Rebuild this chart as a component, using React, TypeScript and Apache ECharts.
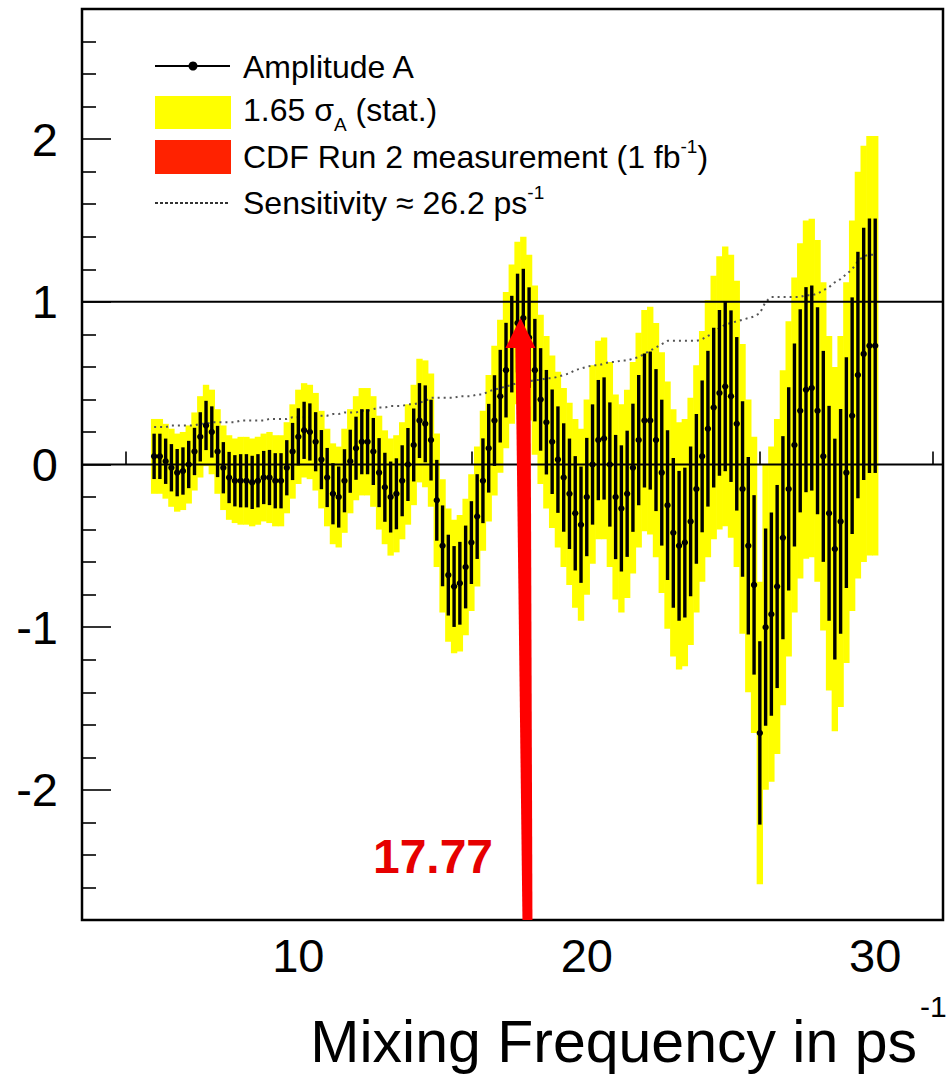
import React, { useEffect, useRef } from "react";
import * as echarts from "echarts";

// Scan frequencies (ps^-1)
const freq = [
  5.0, 5.2, 5.4, 5.6, 5.8, 6.0, 6.2, 6.4, 6.6, 6.8,
  7.0, 7.2, 7.4, 7.6, 7.8, 8.0, 8.2, 8.4, 8.6, 8.8,
  9.0, 9.2, 9.4, 9.6, 9.8, 10.0, 10.2, 10.4, 10.6, 10.8,
  11.0, 11.2, 11.4, 11.6, 11.8, 12.0, 12.2, 12.4, 12.6, 12.8,
  13.0, 13.2, 13.4, 13.6, 13.8, 14.0, 14.2, 14.4, 14.6, 14.8,
  15.0, 15.2, 15.4, 15.6, 15.8, 16.0, 16.2, 16.4, 16.6, 16.8,
  17.0, 17.2, 17.4, 17.6, 17.8, 18.0, 18.2, 18.4, 18.6, 18.8,
  19.0, 19.2, 19.4, 19.6, 19.8, 20.0, 20.2, 20.4, 20.6, 20.8,
  21.0, 21.2, 21.4, 21.6, 21.8, 22.0, 22.2, 22.4, 22.6, 22.8,
  23.0, 23.2, 23.4, 23.6, 23.8, 24.0, 24.2, 24.4, 24.6, 24.8,
  25.0, 25.2, 25.4, 25.6, 25.8, 26.0, 26.2, 26.4, 26.6, 26.8,
  27.0, 27.2, 27.4, 27.6, 27.8, 28.0, 28.2, 28.4, 28.6, 28.8,
  29.0, 29.2, 29.4, 29.6, 29.8, 30.0,
];

// Amplitude A at each frequency
const amplitude = [
  0.05, 0.05, 0.02, -0.02, -0.05, -0.04, 0.0, 0.08, 0.17, 0.24,
  0.2, 0.08, -0.02, -0.08, -0.1, -0.1, -0.1, -0.11, -0.1, -0.08,
  -0.08, -0.1, -0.1, -0.02, 0.08, 0.17, 0.21, 0.2, 0.14, 0.03,
  -0.08, -0.18, -0.2, -0.1, 0.02, 0.1, 0.14, 0.14, 0.08, -0.05,
  -0.14, -0.2, -0.18, -0.1, 0.0, 0.12, 0.27, 0.25, 0.15, -0.22,
  -0.5, -0.68, -0.75, -0.73, -0.63, -0.48, -0.32, -0.1, 0.1, 0.27,
  0.42, 0.58, 0.74, 0.87, 0.9, 0.78, 0.58, 0.4, 0.26, 0.14,
  0.03, -0.08, -0.18, -0.3, -0.37, -0.2, 0.0, 0.15, 0.16, 0.0,
  -0.2, -0.27, -0.18, -0.02, 0.15, 0.27, 0.27, 0.15, -0.05, -0.25,
  -0.42, -0.5, -0.48, -0.35, -0.15, 0.05, 0.22, 0.35, 0.44, 0.48,
  0.42, 0.25, -0.15, -0.5, -0.74, -1.65, -1.0, -0.92, -0.75, -0.45,
  -0.15, 0.12, 0.33, 0.46, 0.47, 0.33, 0.05, -0.3, -0.52, -0.35,
  -0.05, 0.3, 0.55, 0.68, 0.73, 0.73,
];

// 1.65 sigma_A (half-width of the yellow band; also the sensitivity curve)
const sigma165 = [
  0.23, 0.23, 0.23, 0.24, 0.24, 0.24, 0.24, 0.24, 0.25, 0.25,
  0.26, 0.26, 0.26, 0.26, 0.26, 0.27, 0.27, 0.27, 0.27, 0.27,
  0.28, 0.28, 0.28, 0.28, 0.29, 0.29, 0.29, 0.29, 0.3, 0.3,
  0.3, 0.31, 0.31, 0.32, 0.32, 0.32, 0.33, 0.33, 0.34, 0.35,
  0.35, 0.36, 0.36, 0.36, 0.37, 0.37, 0.38, 0.39, 0.41, 0.41,
  0.41, 0.41, 0.41, 0.42, 0.42, 0.42, 0.43, 0.43, 0.45, 0.46,
  0.47, 0.48, 0.49, 0.5, 0.5, 0.51, 0.52, 0.52, 0.53, 0.53,
  0.54, 0.55, 0.56, 0.58, 0.59, 0.6, 0.61, 0.61, 0.62, 0.63,
  0.63, 0.64, 0.64, 0.65, 0.66, 0.68, 0.7, 0.72, 0.74, 0.76,
  0.76, 0.76, 0.76, 0.76, 0.76, 0.77, 0.79, 0.81, 0.84, 0.86,
  0.87, 0.88, 0.89, 0.9, 0.91, 0.93, 1.0, 1.03, 1.03, 1.03,
  1.03, 1.03, 1.03, 1.04, 1.04, 1.05, 1.07, 1.09, 1.12, 1.14,
  1.17, 1.2, 1.25, 1.28, 1.29, 1.29,
];

const xMajorTicks = [10, 20, 30];
const xMinorTicks = [4, 6, 8, 12, 14, 16, 18, 22, 24, 26, 28, 32];
const yMajorTicks = [-2, -1, 0, 1, 2];
const yMinorTicks = [
  -2.6, -2.4, -2.2, -1.8, -1.6, -1.4, -1.2, -0.8, -0.6, -0.4, -0.2,
  0.2, 0.4, 0.6, 0.8, 1.2, 1.4, 1.6, 1.8, 2.2, 2.4, 2.6,
];
const referenceLines = [0, 1];
const measuredFreq = 17.77;
const arrowTipAmplitude = 0.9;

const X_MIN = 2.5;
const X_MAX = 32.35;
const Y_MIN = -2.8;
const Y_MAX = 2.8;
const STEP = 0.2;

const FONT = "'Liberation Sans', Arial, Helvetica, sans-serif";

export default function App() {
  const ref = useRef<HTMLDivElement>(null);

  useEffect(() => {
    document.body.style.margin = "0";
    const chart = echarts.init(ref.current!, null, { renderer: "svg" });

    const scanData = freq.map((f, i) => [f, amplitude[i], sigma165[i]]);

    const xAxisBase = {
      type: "value",
      min: X_MIN,
      max: X_MAX,
      position: "bottom",
      axisLine: { show: false },
      splitLine: { show: false },
    };
    const yAxisBase = {
      type: "value",
      min: Y_MIN,
      max: Y_MAX,
      position: "left",
      axisLine: { show: false },
      splitLine: { show: false },
    };

    const option: any = {
      animation: false,
      grid: {
        left: 82,
        top: 9,
        right: 8,
        bottom: 155,
        show: true,
        borderColor: "#000",
        borderWidth: 2.5,
        backgroundColor: "transparent",
      },
      xAxis: [
        {
          ...xAxisBase,
          axisTick: {
            show: true,
            inside: true,
            length: 24,
            customValues: xMajorTicks,
            lineStyle: { color: "#000", width: 1.6 },
          },
          axisLabel: {
            customValues: xMajorTicks,
            fontSize: 47,
            color: "#000",
            fontFamily: FONT,
            margin: 12,
          },
        },
        {
          ...xAxisBase,
          axisTick: {
            show: true,
            inside: true,
            length: 13,
            customValues: xMinorTicks,
            lineStyle: { color: "#000", width: 1.6 },
          },
          axisLabel: { show: false },
        },
      ],
      yAxis: [
        {
          ...yAxisBase,
          axisTick: {
            show: true,
            inside: true,
            length: 29,
            customValues: yMajorTicks,
            lineStyle: { color: "#000", width: 1.6 },
          },
          axisLabel: {
            customValues: yMajorTicks,
            fontSize: 47,
            color: "#000",
            fontFamily: FONT,
            margin: 24,
          },
        },
        {
          ...yAxisBase,
          axisTick: {
            show: true,
            inside: true,
            length: 14,
            customValues: yMinorTicks,
            lineStyle: { color: "#000", width: 1.6 },
          },
          axisLabel: { show: false },
        },
      ],
      series: [
        {
          name: "1.65 σA (stat.)",
          type: "custom",
          xAxisIndex: 0,
          yAxisIndex: 0,
          silent: true,
          z: 1,
          data: scanData,
          encode: { x: 0, y: 1 },
          renderItem: (params: any, api: any) => {
            const x = api.value(0);
            const a = api.value(1);
            const h = api.value(2);
            const p1 = api.coord([x - STEP / 2, a + h]);
            const p2 = api.coord([x + STEP / 2, a - h]);
            return {
              type: "rect",
              shape: {
                x: p1[0] - 0.3,
                y: p1[1],
                width: p2[0] - p1[0] + 0.6,
                height: p2[1] - p1[1],
              },
              style: { fill: "#ffff00" },
            };
          },
        },
        {
          name: "Sensitivity",
          type: "line",
          xAxisIndex: 0,
          yAxisIndex: 0,
          silent: true,
          z: 2,
          symbol: "none",
          data: freq.map((f, i) => [f, sigma165[i]]),
          lineStyle: { color: "#555", width: 2, type: [2, 4] },
        },
        {
          name: "Amplitude A",
          type: "custom",
          xAxisIndex: 0,
          yAxisIndex: 0,
          silent: true,
          z: 3,
          data: scanData,
          encode: { x: 0, y: 1 },
          renderItem: (params: any, api: any) => {
            const x = api.value(0);
            const a = api.value(1);
            const s = api.value(2) / 1.65;
            const top = api.coord([x, a + s]);
            const bot = api.coord([x, a - s]);
            const c = api.coord([x, a]);
            return {
              type: "group",
              children: [
                {
                  type: "line",
                  shape: { x1: top[0], y1: top[1], x2: bot[0], y2: bot[1] },
                  style: { stroke: "#000", lineWidth: 3.4 },
                },
                {
                  type: "circle",
                  shape: { cx: c[0], cy: c[1], r: 3.2 },
                  style: { fill: "#000" },
                },
              ],
            };
          },
        },
        {
          name: "reference lines",
          type: "custom",
          xAxisIndex: 0,
          yAxisIndex: 0,
          silent: true,
          z: 4,
          data: referenceLines.map((v) => [X_MIN, v]),
          encode: { x: 0, y: 1 },
          renderItem: (params: any, api: any) => {
            const cs = params.coordSys;
            const p = api.coord([api.value(0), api.value(1)]);
            return {
              type: "line",
              shape: { x1: cs.x, y1: p[1], x2: cs.x + cs.width, y2: p[1] },
              style: { stroke: "#000", lineWidth: 2 },
            };
          },
        },
        {
          name: "CDF Run 2 measurement",
          type: "custom",
          xAxisIndex: 0,
          yAxisIndex: 0,
          silent: true,
          z: 10,
          data: [[measuredFreq, arrowTipAmplitude]],
          encode: { x: 0, y: 1 },
          renderItem: (params: any, api: any) => {
            const cs = params.coordSys;
            const tip = api.coord([api.value(0), api.value(1)]);
            const tx = tip[0] - 2;
            const ty = tip[1];
            const baseY = cs.y + cs.height;
            const headBase = ty + 30;
            return {
              type: "group",
              children: [
                {
                  type: "polygon",
                  shape: {
                    points: [
                      [tx - 5, headBase - 2],
                      [tx + 10, headBase - 2],
                      [tx + 12, baseY],
                      [tx + 2, baseY],
                    ],
                  },
                  style: { fill: "#ff0000" },
                },
                {
                  type: "polygon",
                  shape: {
                    points: [
                      [tx, ty],
                      [tx + 15, headBase],
                      [tx - 15, headBase],
                    ],
                  },
                  style: { fill: "#ff0000" },
                },
              ],
            };
          },
        },
      ],
      graphic: [
        // Legend
        {
          type: "line",
          shape: { x1: 155, y1: 66, x2: 230, y2: 66 },
          style: { stroke: "#000", lineWidth: 2 },
        },
        {
          type: "circle",
          shape: { cx: 193, cy: 66, r: 4.5 },
          style: { fill: "#000" },
        },
        {
          type: "rect",
          shape: { x: 155, y: 96, width: 76, height: 33 },
          style: { fill: "#ffff00" },
        },
        {
          type: "rect",
          shape: { x: 155, y: 140, width: 76, height: 34 },
          style: { fill: "#ff2200" },
        },
        {
          type: "line",
          shape: { x1: 155, y1: 203, x2: 230, y2: 203 },
          style: { stroke: "#333", lineWidth: 2, lineDash: [3, 2] },
        },
        {
          type: "text",
          x: 243,
          y: 67,
          style: {
            text: "Amplitude A",
            fill: "#000",
            fontSize: 32,
            fontFamily: FONT,
            verticalAlign: "middle",
          },
        },
        {
          type: "text",
          x: 243,
          y: 110,
          style: {
            text: "1.65 σ{sub|A} (stat.)",
            fill: "#000",
            fontSize: 32,
            fontFamily: FONT,
            lineHeight: 48,
            verticalAlign: "middle",
            rich: {
              sub: {
                fontSize: 19,
                lineHeight: 19,
                verticalAlign: "bottom",
                fontFamily: FONT,
                fill: "#000",
              },
            },
          },
        },
        {
          type: "text",
          x: 243,
          y: 157,
          style: {
            text: "CDF Run 2 measurement (1 fb{sup|-1})",
            fill: "#000",
            fontSize: 32,
            fontFamily: FONT,
            lineHeight: 41,
            verticalAlign: "middle",
            rich: {
              sup: {
                fontSize: 19,
                lineHeight: 19,
                verticalAlign: "top",
                fontFamily: FONT,
                fill: "#000",
              },
            },
          },
        },
        {
          type: "text",
          x: 243,
          y: 203,
          style: {
            text: "Sensitivity ≈ 26.2 ps{sup|-1}",
            fill: "#000",
            fontSize: 32,
            fontFamily: FONT,
            lineHeight: 41,
            verticalAlign: "middle",
            rich: {
              sup: {
                fontSize: 19,
                lineHeight: 19,
                verticalAlign: "top",
                fontFamily: FONT,
                fill: "#000",
              },
            },
          },
        },
        // Measurement value
        {
          type: "text",
          x: 433,
          y: 856,
          z: 20,
          style: {
            text: "17.77",
            fill: "#e60000",
            fontSize: 48,
            fontWeight: "bold",
            fontFamily: FONT,
            align: "center",
            verticalAlign: "middle",
          },
        },
        // X axis title
        {
          type: "text",
          x: 917,
          y: 1042,
          style: {
            text: "Mixing Frequency in ps",
            fill: "#000",
            fontSize: 59,
            fontFamily: FONT,
            align: "right",
            verticalAlign: "middle",
          },
        },
        {
          type: "text",
          x: 920,
          y: 1006,
          style: {
            text: "-1",
            fill: "#000",
            fontSize: 30,
            fontFamily: FONT,
            align: "left",
            verticalAlign: "middle",
          },
        },
      ],
    };

    chart.setOption(option);
    return () => chart.dispose();
  }, []);

  return <div ref={ref} style={{ width: 951, height: 1075 }} />;
}
